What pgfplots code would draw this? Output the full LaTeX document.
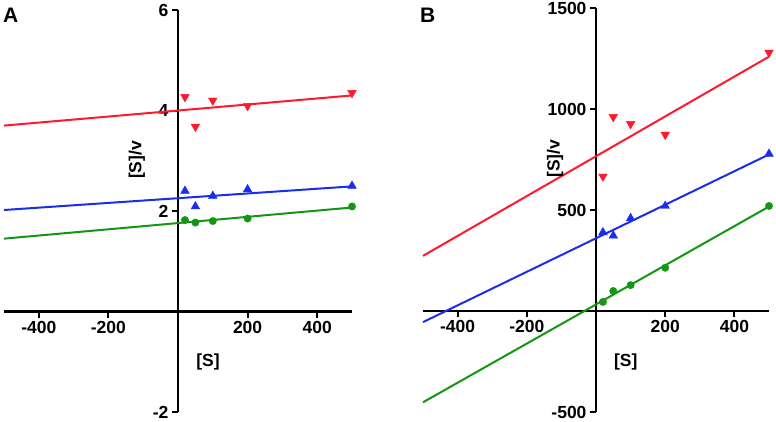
\documentclass[border=0pt]{standalone}
\usepackage{fontspec}
\setmainfont{Liberation Sans}
\usepackage{pgfplots}
\pgfplotsset{compat=1.18}
\definecolor{cred}{RGB}{255,25,45}
\definecolor{cblue}{RGB}{25,45,235}
\definecolor{cgreen}{RGB}{20,150,20}
\pgfplotsset{
  kin/.style={
    scale only axis, axis lines=middle,
    axis line style={-, line width=2.2pt, black},
    tick style={line width=2pt, black}, major tick length=6pt, tick align=outside,
    xmin=-500, xmax=500, xtick={-400,-200,200,400}, xticklabels={-400,-200,200,400},
    ticklabel style={font=\fontsize{17.5}{20}\selectfont\bfseries},
    clip=false,
    xlabel={[S]}, ylabel={[S]/v},
    every axis x label/.style={at={(axis description cs:0.586,0.124)}, anchor=center, font=\fontsize{17.5}{20}\selectfont\bfseries},
    every axis y label/.style={at={(axis description cs:0.382,0.627)}, anchor=center, rotate=90, font=\fontsize{17.5}{20}\selectfont\bfseries},
    fit/.style={line width=2pt, no marks},
    tri/.style={only marks, mark=triangle*, mark size=5pt},
    itri/.style={only marks, mark=triangle*, mark size=5pt, mark options={rotate=180}},
    dot/.style={only marks, mark=*, mark size=3.7pt},
  }
}
\begin{document}
\begin{tikzpicture}
\path[use as bounding box] (0pt,0pt) rectangle (776pt,421pt);
\node[anchor=base west, font=\fontsize{21}{24}\selectfont\bfseries, inner sep=0pt] at (3pt,398pt) {A};
\node[anchor=base west, font=\fontsize{21}{24}\selectfont\bfseries, inner sep=0pt] at (420pt,398pt) {B};
\begin{axis}[kin, at={(4pt,9pt)}, anchor=south west, width=348pt, height=402pt,
  ymin=-2, ymax=6, ytick={-2,2,4,6}, yticklabels={-2,2,4,6}]
\addplot[cred, fit] coordinates {(-500,3.70)(500,4.30)};
\addplot[cred, itri] coordinates {(20,4.27)(50,3.68)(100,4.20)(200,4.09)(500,4.35)};
\addplot[cblue, fit] coordinates {(-500,2.02)(500,2.49)};
\addplot[cblue, tri] coordinates {(20,2.40)(50,2.09)(100,2.30)(200,2.43)(500,2.50)};
\addplot[cgreen, fit] coordinates {(-500,1.45)(500,2.07)};
\addplot[cgreen, dot] coordinates {(20,1.82)(50,1.77)(100,1.80)(200,1.85)(500,2.09)};
\end{axis}
\begin{axis}[kin, at={(423pt,9pt)}, anchor=south west, width=346pt, height=404pt,
  ymin=-500, ymax=1500, ytick={-500,500,1000,1500}, yticklabels={-500,500,1000,1500}]
\addplot[cred, fit] coordinates {(-500,273)(500,1259)};
\addplot[cred, itri] coordinates {(20,666)(50,961)(100,926)(200,873)(500,1279)};
\addplot[cblue, fit] coordinates {(-500,-55)(500,775)};
\addplot[cblue, tri] coordinates {(20,389)(50,373)(100,459)(200,520)(500,778)};
\addplot[cgreen, fit] coordinates {(-500,-452)(500,517)};
\addplot[cgreen, dot] coordinates {(20,45)(50,99)(100,128)(200,214)(500,520)};
\end{axis}
\end{tikzpicture}
\end{document}
